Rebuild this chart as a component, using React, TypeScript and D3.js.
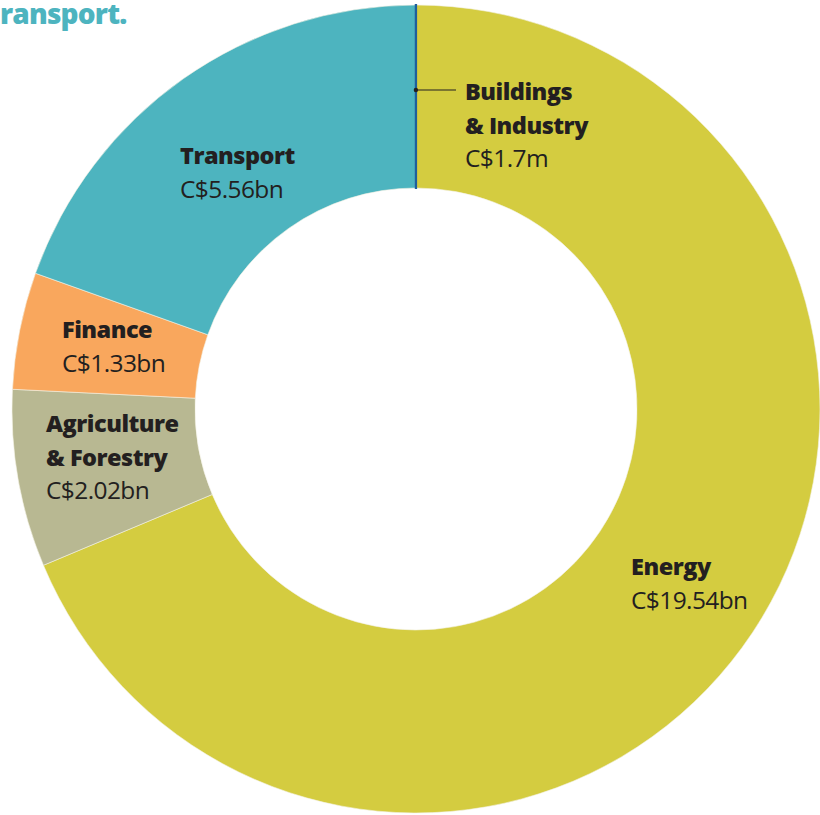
import React from "react";
import * as d3 from "d3";

const categories = ["Energy", "Agriculture & Forestry", "Finance", "Transport", "Buildings & Industry"];
const values = [19.54, 2.02, 1.33, 5.56, 0.0017];
const valueLabels = ["C$19.54bn", "C$2.02bn", "C$1.33bn", "C$5.56bn", "C$1.7m"];
const colors = ["#d4cc40", "#b8b892", "#f9a75d", "#4db4bf", "#1f5f9c"];
const nameLines = [["Energy"], ["Agriculture", "& Forestry"], ["Finance"], ["Transport"], ["Buildings", "& Industry"]];
const labelPos: [number, number][] = [[631, 575], [46, 432], [62, 338], [180, 164], [465, 100]];

const W = 820, H = 815;
const cx = 416, cy = 409, R = 404, r0 = 221;
const FONT = "'Open Sans', Lato, sans-serif";

export default function App() {
  const data = categories.map((c, i) => ({ c, v: values[i], i }));
  const pie = d3.pie<any>().sort(null).value((d) => d.v);
  const arcs = pie(data);
  const arc = d3.arc<any>().innerRadius(r0).outerRadius(R);
  const lh = 33.5;
  const bAngle = arcs[4].startAngle;
  const dot: [number, number] = [cx + Math.sin(bAngle) * 319, cy - Math.cos(bAngle) * 319];
  return (
    <svg width={W} height={H} style={{ position: "absolute", left: 0, top: 0, background: "#fff" }}>
      <g transform={`translate(${cx},${cy})`}>
        {arcs.map((a, i) => (
          <path key={i} d={arc(a) || ""} fill={colors[i]}
            stroke={i === 4 ? colors[i] : "#f4f1e4"} strokeWidth={i === 4 ? 2.2 : 0.6} />
        ))}
      </g>
      <line x1={dot[0]} y1={dot[1]} x2={456} y2={dot[1]} stroke="#231f20" strokeWidth={1.2} />
      <circle cx={dot[0]} cy={dot[1]} r={2.2} fill="#231f20" />
      {categories.map((c, i) => {
        const [x, y] = labelPos[i];
        const lines = nameLines[i];
        return (
          <text key={c} x={x} y={y} fontFamily={FONT} fill="#231f20">
            {lines.map((l, j) => (
              <tspan key={j} x={x} y={y + j * lh} fontWeight={800} fontSize={23.5} letterSpacing={-0.5}>{l}</tspan>
            ))}
            <tspan x={x} y={y + lines.length * lh} fontWeight={400} fontSize={24.5} letterSpacing={-0.6}>{valueLabels[i]}</tspan>
          </text>
        );
      })}
      <text x={0} y={24} fontFamily={FONT} fontSize={28} fontWeight={800} fill="#4db4bf" letterSpacing={-0.8}>ransport.</text>
    </svg>
  );
}
